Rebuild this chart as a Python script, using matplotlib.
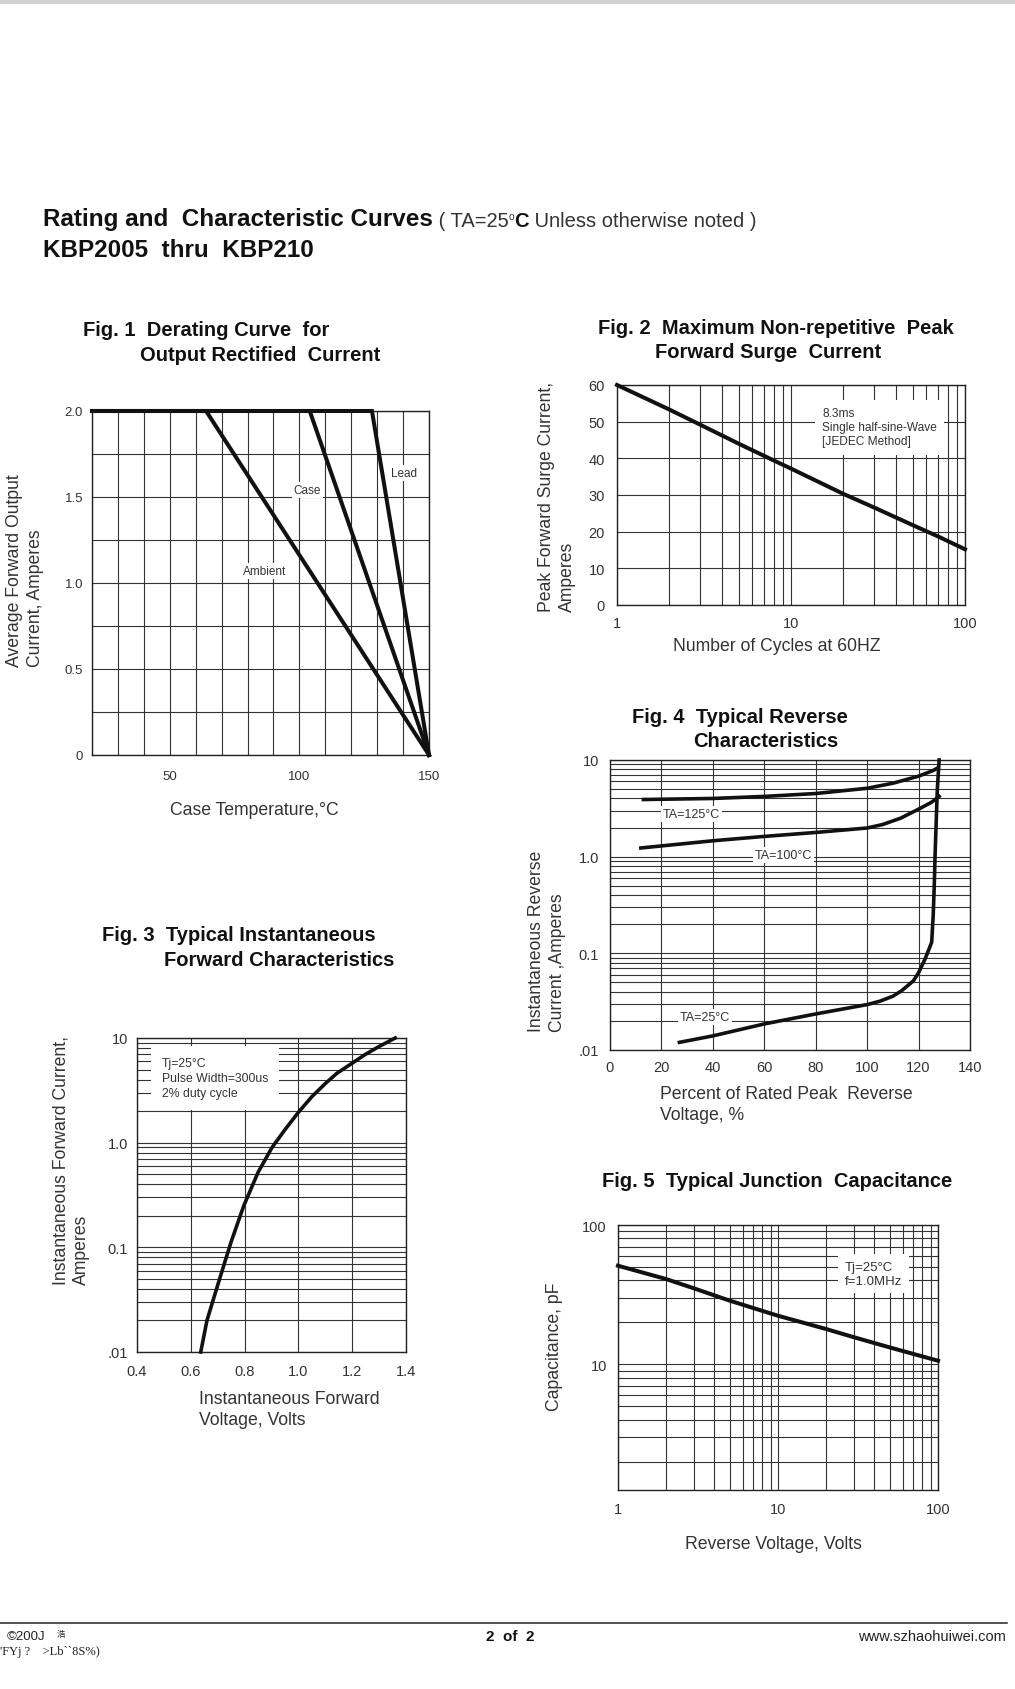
import matplotlib
matplotlib.use('Agg')
import numpy as np
import matplotlib.pyplot as plt
from matplotlib.ticker import LogLocator, NullFormatter
from matplotlib.patches import Rectangle

W, H = 1015, 1690
plt.rcParams['font.family'] = ['Liberation Sans', 'DejaVu Sans']

# ---------------- data ----------------
# Fig 1: derating curves
fig1_lead_temp = [20, 128, 150]
fig1_lead_curr = [2.0, 2.0, 0.0]
fig1_case_temp = [20, 104, 150]
fig1_case_curr = [2.0, 2.0, 0.0]
fig1_amb_temp = [20, 64, 150]
fig1_amb_curr = [2.0, 2.0, 0.0]
fig1_xticks = [50, 100, 150]
fig1_xticklabels = ['50', '100', '150']
fig1_yticks = [0, 0.5, 1.0, 1.5, 2.0]
fig1_yticklabels = ['0', '0.5', '1.0', '1.5', '2.0']

# Fig 2: surge current vs cycles
fig2_cycles = [1, 2, 3, 5, 7.5, 10, 20, 30, 50, 70, 100]
fig2_surge = [60, 53.3, 49.2, 44.0, 40, 37.2, 30.3, 26.6, 21.8, 18.7, 15.2]
fig2_xticks = [1, 10, 100]
fig2_xticklabels = ['1', '10', '100']
fig2_yticks = [0, 10, 20, 30, 40, 50, 60]

# Fig 3: forward characteristics
fig3_vf = [0.637, 0.66, 0.705, 0.75, 0.797, 0.85, 0.902, 0.95, 1.0, 1.05, 1.1,
           1.143, 1.2, 1.25, 1.3, 1.36]
fig3_if = [0.01, 0.02, 0.048, 0.113, 0.25, 0.52, 0.9, 1.33, 1.95, 2.75, 3.67,
           4.6, 5.75, 7.0, 8.3, 10.0]
fig3_xticks = [0.4, 0.6, 0.8, 1.0, 1.2, 1.4]
fig3_xticklabels = ['0.4', '0.6', '0.8', '1.0', '1.2', '1.4']
fig3_yticks = [0.01, 0.1, 1, 10]
fig3_yticklabels = ['.01', '0.1', '1.0', '10']

# Fig 4: reverse characteristics
fig4_t125_pct = [13, 40, 60, 80, 100, 110, 120, 125.7, 127.5]
fig4_t125_ir = [3.9, 4.0, 4.2, 4.5, 5.1, 5.75, 6.8, 7.8, 8.3]
fig4_t100_pct = [12, 40, 60, 80, 100, 106, 113, 120, 125, 128]
fig4_t100_ir = [1.23, 1.46, 1.62, 1.78, 1.98, 2.15, 2.5, 3.1, 3.65, 4.2]
fig4_t25_pct = [27, 40, 60, 80, 100, 105, 110, 113.4, 118, 120, 122.5, 125.1,
                125.7, 126.1, 126.4, 126.9, 127.3, 128]
fig4_t25_ir = [0.012, 0.014, 0.0186, 0.0236, 0.0295, 0.032, 0.036, 0.041, 0.052,
               0.063, 0.087, 0.13, 0.25, 0.5, 1.0, 2.5, 5.0, 10.0]
fig4_xticks = [0, 20, 40, 60, 80, 100, 120, 140]
fig4_yticks = [0.01, 0.1, 1, 10]
fig4_yticklabels = ['.01', '0.1', '1.0', '10']

# Fig 5: junction capacitance
fig5_vr = [1, 2, 3, 5, 10, 20, 30, 50, 100]
fig5_cap = [51, 40.9, 35, 28.6, 22.3, 17.9, 15.6, 13.2, 10.6]
fig5_xticks = [1, 10, 100]
fig5_xticklabels = ['1', '10', '100']
fig5_yticks = [10, 100]
fig5_yticklabels = ['10', '100']

# ---------------- figure ----------------
fig = plt.figure(figsize=(W / 100, H / 100), dpi=100)
fig.patch.set_facecolor('white')

GRID = '#333333'
TXT = '#333333'
CURVE_LW = 2.9


def axes_px(l, t, r, b):
    return fig.add_axes([l / W, 1 - b / H, (r - l) / W, (b - t) / H])


def style(ax, xpad, ypad):
    for s in ax.spines.values():
        s.set_color('#222222')
        s.set_linewidth(1.0)
    ax.tick_params(which='both', length=0, labelsize=9.5, labelcolor=TXT)
    ax.tick_params(axis='x', pad=xpad)
    ax.tick_params(axis='y', pad=ypad)
    ax.grid(True, which='both', color=GRID, lw=0.8)
    ax.set_axisbelow(True)


def label_box(pad=0.15):
    return dict(boxstyle='square,pad=%s' % pad, facecolor='white', edgecolor='none')


# ---- Fig 1 ----
ax1 = axes_px(92, 412, 429, 756)
ax1.set_xlim(20, 150)
ax1.set_ylim(0, 2.0)
ax1.set_xticks(fig1_xticks)
ax1.set_xticklabels(fig1_xticklabels)
ax1.set_xticks(np.arange(20, 151, 10), minor=True)
ax1.set_yticks(fig1_yticks)
ax1.set_yticklabels(fig1_yticklabels)
ax1.set_yticks(np.arange(0, 2.01, 0.25), minor=True)
style(ax1, 11, 6.5)
for xs, ys in [(fig1_amb_temp, fig1_amb_curr), (fig1_case_temp, fig1_case_curr),
               (fig1_lead_temp, fig1_lead_curr)]:
    ax1.plot(xs, ys, color='#111111', lw=CURVE_LW, clip_on=False,
             solid_joinstyle='miter', zorder=3)
ax1.text(140.5, 1.64, 'Lead', fontsize=8.5, color=TXT, ha='center', va='center',
         bbox=label_box(), zorder=4)
ax1.text(103, 1.54, 'Case', fontsize=8.5, color=TXT, ha='center', va='center',
         bbox=label_box(), zorder=4)
ax1.text(86.7, 1.07, 'Ambient', fontsize=8.5, color=TXT, ha='center', va='center',
         bbox=label_box(), zorder=4)

# ---- Fig 2 ----
ax2 = axes_px(617, 386, 965, 606)
ax2.set_xscale('log')
ax2.set_xlim(1, 100)
ax2.set_ylim(0, 60)
ax2.set_xticks(fig2_xticks)
ax2.set_xticklabels(fig2_xticklabels)
ax2.xaxis.set_minor_locator(LogLocator(base=10, subs=np.arange(2, 10)))
ax2.xaxis.set_minor_formatter(NullFormatter())
ax2.set_yticks(fig2_yticks)
style(ax2, 8, 8.6)
ax2.tick_params(labelsize=10.5)
ax2.plot(fig2_cycles, fig2_surge, color='#111111', lw=CURVE_LW, clip_on=False,
         zorder=3, solid_joinstyle='round')
ax2.text(15.1, 48.5, '8.3ms\nSingle half-sine-Wave\n[JEDEC Method]', fontsize=8.6,
         color=TXT, ha='left', va='center', linespacing=1.25,
         bbox=label_box(0.6), zorder=4)

# ---- Fig 4 ----
ax4 = axes_px(610, 761, 970, 1051)
ax4.set_yscale('log')
ax4.set_xlim(0, 140)
ax4.set_ylim(0.01, 10)
ax4.set_xticks(fig4_xticks)
ax4.set_yticks(fig4_yticks)
ax4.set_yticklabels(fig4_yticklabels)
ax4.yaxis.set_minor_locator(LogLocator(base=10, subs=np.arange(2, 10)))
ax4.yaxis.set_minor_formatter(NullFormatter())
style(ax4, 7, 8)
ax4.tick_params(labelsize=10.5)
for xs, ys in [(fig4_t125_pct, fig4_t125_ir), (fig4_t100_pct, fig4_t100_ir),
               (fig4_t25_pct, fig4_t25_ir)]:
    ax4.plot(xs, ys, color='#111111', lw=2.6, clip_on=False, zorder=3,
             solid_joinstyle='round')
ax4.text(31.8, 2.76, 'TA=125°C', fontsize=9, color=TXT, ha='center', va='center',
         bbox=label_box(), zorder=4)
ax4.text(67.4, 1.04, 'TA=100°C', fontsize=9, color=TXT, ha='center', va='center',
         bbox=label_box(), zorder=4)
ax4.text(37, 0.022, 'TA=25°C', fontsize=9, color=TXT, ha='center', va='center',
         bbox=label_box(), zorder=4)

# ---- Fig 3 ----
ax3 = axes_px(137, 1039, 406, 1353)
ax3.set_yscale('log')
ax3.set_xlim(0.4, 1.4)
ax3.set_ylim(0.01, 10)
ax3.set_xticks(fig3_xticks)
ax3.set_xticklabels(fig3_xticklabels)
ax3.set_yticks(fig3_yticks)
ax3.set_yticklabels(fig3_yticklabels)
ax3.yaxis.set_minor_locator(LogLocator(base=10, subs=np.arange(2, 10)))
ax3.yaxis.set_minor_formatter(NullFormatter())
style(ax3, 8.6, 6.5)
ax3.tick_params(labelsize=10.5)
ax3.plot(fig3_vf, fig3_if, color='#111111', lw=2.6, clip_on=False, zorder=3,
         solid_joinstyle='round')
ax3.text(0.493, 4.15, 'Tj=25°C\nPulse Width=300us\n2% duty cycle', fontsize=8.8,
         color=TXT, ha='left', va='center', linespacing=1.3,
         bbox=label_box(0.9), zorder=4)

# ---- Fig 5 ----
ax5 = axes_px(618, 1226, 938, 1491)
ax5.set_xscale('log')
ax5.set_yscale('log')
ax5.set_xlim(1, 100)
ax5.set_ylim(1.25, 100)
ax5.set_xticks(fig5_xticks)
ax5.set_xticklabels(fig5_xticklabels)
ax5.set_yticks(fig5_yticks)
ax5.set_yticklabels(fig5_yticklabels)
ax5.xaxis.set_minor_locator(LogLocator(base=10, subs=np.arange(2, 10)))
ax5.yaxis.set_minor_locator(LogLocator(base=10, subs=np.arange(2, 10)))
ax5.xaxis.set_minor_formatter(NullFormatter())
ax5.yaxis.set_minor_formatter(NullFormatter())
style(ax5, 8.6, 8)
ax5.tick_params(labelsize=10.5)
ax5.plot(fig5_vr, fig5_cap, color='#111111', lw=CURVE_LW, clip_on=False, zorder=3,
         solid_joinstyle='round')
ax5.text(26.2, 44.5, 'Tj=25°C\nf=1.0MHz', fontsize=9.5, color=TXT, ha='left',
         va='center', linespacing=1.2, bbox=label_box(0.5), zorder=4)

# ---------------- overlay for page text ----------------
oax = fig.add_axes([0, 0, 1, 1])
oax.set_xlim(0, W)
oax.set_ylim(H, 0)
oax.axis('off')
oax.patch.set_visible(False)

oax.add_patch(Rectangle((0, 0), W, 5, facecolor='#d2d2d2', edgecolor='none'))

# header
t1 = oax.text(43, 226, 'Rating and  Characteristic Curves', fontsize=17.5,
              fontweight='bold', color='#111111', va='baseline')
t2 = oax.annotate(' ( TA=25', xy=(1, 0), xycoords=t1, fontsize=14.5, color=TXT,
                  va='bottom', ha='left')
t3 = oax.annotate('o', xy=(1, 1), xycoords=t2, fontsize=7.5, color=TXT,
                  va='top', ha='left')
t4 = oax.annotate('C', xy=(1, 0), xycoords=(t3, t2), fontsize=14.5, color='#111111',
                  fontweight='bold', va='bottom', ha='left')
oax.annotate(' Unless otherwise noted )', xy=(1, 0), xycoords=t4, fontsize=14.5,
             color=TXT, va='bottom', ha='left')
oax.text(43, 257, 'KBP2005  thru  KBP210', fontsize=17.5, fontweight='bold',
         color='#111111', va='baseline')

# figure titles
TKW = dict(fontsize=14.5, fontweight='bold', color='#111111', va='baseline', ha='left')
oax.text(83, 336, 'Fig. 1  Derating Curve  for', **TKW)
oax.text(140, 361, 'Output Rectified  Current', **TKW)
oax.text(598, 334, 'Fig. 2  Maximum Non-repetitive  Peak', **TKW)
oax.text(655, 358, 'Forward Surge  Current', **TKW)
oax.text(632, 723, 'Fig. 4  Typical Reverse', **TKW)
oax.text(693, 747, 'Characteristics', **TKW)
oax.text(102, 941, 'Fig. 3  Typical Instantaneous', **TKW)
oax.text(164, 966, 'Forward Characteristics', **TKW)
oax.text(602, 1187, 'Fig. 5  Typical Junction  Capacitance', **TKW)

# axis labels
LKW = dict(fontsize=12.7, color=TXT, linespacing=1.3)
oax.text(25, 667, 'Average Forward Output\nCurrent, Amperes', rotation=90,
         ha='center', va='bottom', multialignment='left', **LKW)
oax.text(254, 811, 'Case Temperature,°C', ha='center', va='center', **LKW)
oax.text(557, 612, 'Peak Forward Surge Current,\nAmperes', rotation=90,
         ha='center', va='bottom', multialignment='left', **LKW)
oax.text(777, 647, 'Number of Cycles at 60HZ', ha='center', va='center', **LKW)
oax.text(547, 1032, 'Instantaneous Reverse\nCurrent ,Amperes', rotation=90,
         ha='center', va='bottom', multialignment='left', **LKW)
oax.text(660, 1105, 'Percent of Rated Peak  Reverse\nVoltage, %', ha='left',
         va='center', **LKW)
oax.text(71, 1285, 'Instantaneous Forward Current,\nAmperes', rotation=90,
         ha='center', va='bottom', multialignment='left', **LKW)
oax.text(199, 1410, 'Instantaneous Forward\nVoltage, Volts', ha='left',
         va='center', **LKW)
oax.text(555, 1347, 'Capacitance, pF', rotation=90, ha='center', va='center', **LKW)
oax.text(773, 1545, 'Reverse Voltage, Volts', ha='center', va='center', **LKW)

# footer
oax.plot([0, 1007], [1624, 1624], color='#222222', lw=1.1)
oax.text(7, 1637, '©200J', fontsize=9.5, color='#222222', va='center')
oax.text(57, 1635, '浩', fontsize=6, color='#222222', va='center',
         family=['Noto Sans CJK SC', 'DejaVu Sans'])
oax.text(0, 1652, "'FYj ?    >Lb``8S%)", fontsize=9, color='#222222', va='center',
         family=['Liberation Serif', 'DejaVu Serif'])
oax.text(510, 1637, '2  of  2', fontsize=11, fontweight='bold', color='#111111',
         ha='center', va='center')
oax.text(1006, 1637, 'www.szhaohuiwei.com', fontsize=10.5, color='#222222',
         ha='right', va='center')

fig.savefig('out.png', dpi=100, facecolor='white')
